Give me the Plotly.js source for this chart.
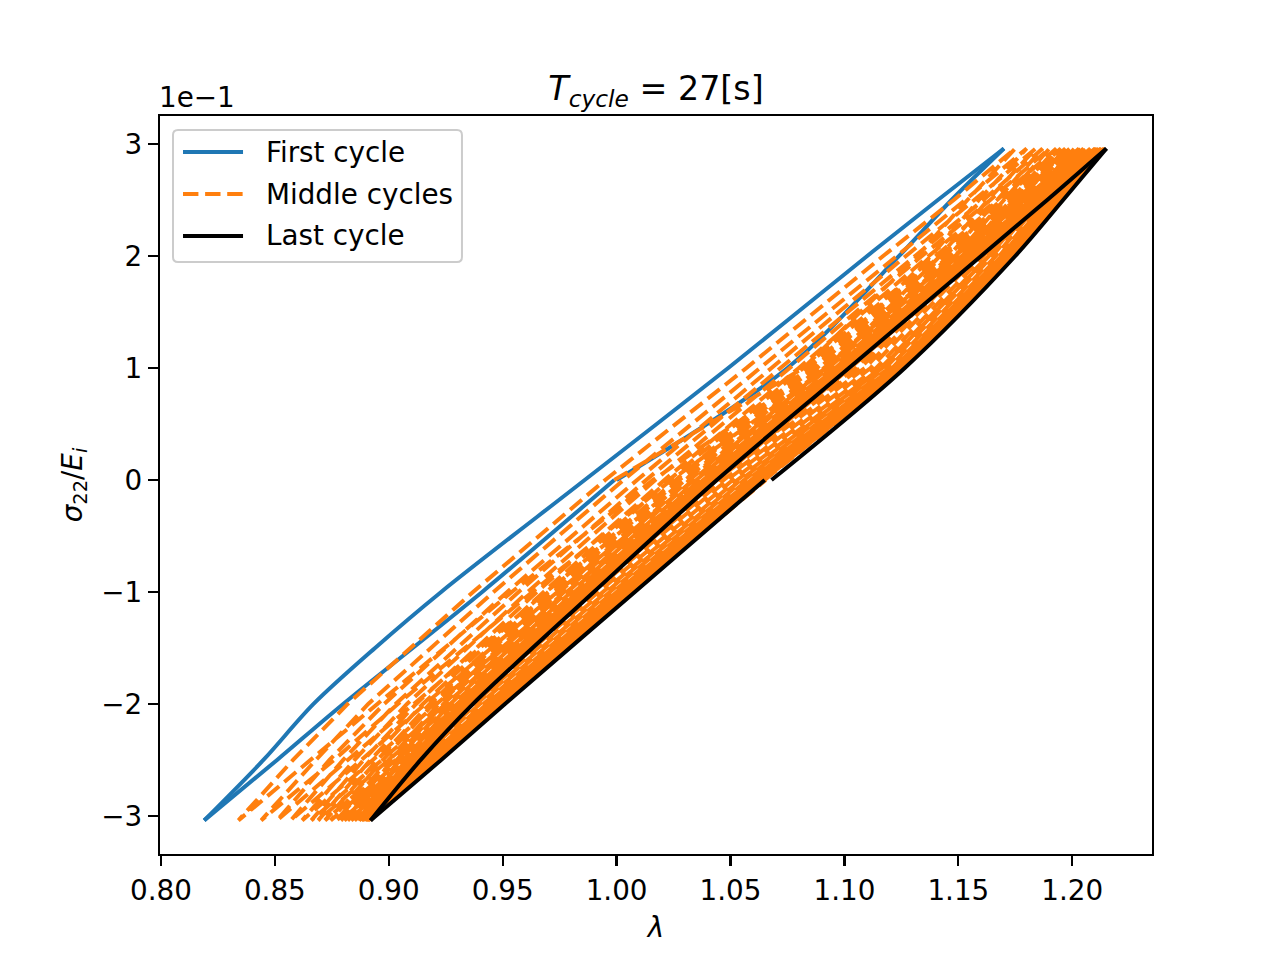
<!DOCTYPE html>
<html>
<head>
<meta charset="utf-8">
<script src="https://cdn.plot.ly/plotly-3.0.1.min.js"></script>
<style>
  html, body { margin: 0; padding: 0; background: #fff; }
  #myDiv { width: 1280px; height: 960px; }
</style>
</head>
<body>
<div id="myDiv"></div>
<script>
// stress path of one cycle (sigma_22 / E_i), same for every cycle:
// up to the top, down to the bottom, back up to zero
var sigmaPath = [0, 0.1, 0.2, 0.25, 0.296, 0.25, 0.2, 0.1, 0, -0.1, -0.2, -0.25, -0.304, -0.25, -0.2, -0.1, 0];

// the first cycle bends near the bottom, so it gets one more reading at -0.15
var sigmaFirst = [0, 0.1, 0.2, 0.25, 0.296, 0.25, 0.2, 0.1, 0, -0.1, -0.15, -0.2, -0.25, -0.304, -0.25, -0.2, -0.1, 0];
var firstCycle = [1.000, 1.075, 1.124, 1.147, 1.170, 1.141, 1.110, 1.049, 0.986, 0.923, 0.894, 0.867, 0.845, 0.819, 0.851, 0.880, 0.941, 0.999];

// stretch lambda of the middle cycles, read along sigmaPath
var middleCycles = [
  [0.999, 1.082, 1.132, 1.154, 1.175, 1.148, 1.117, 1.057, 0.995, 0.937, 0.882, 0.858, 0.834, 0.866, 0.895, 0.954, 1.016],
  [1.016, 1.088, 1.138, 1.159, 1.180, 1.153, 1.123, 1.063, 1.003, 0.946, 0.891, 0.868, 0.844, 0.876, 0.904, 0.963, 1.024],
  [1.024, 1.093, 1.142, 1.163, 1.184, 1.157, 1.127, 1.068, 1.009, 0.952, 0.898, 0.874, 0.851, 0.882, 0.911, 0.969, 1.030],
  [1.030, 1.097, 1.146, 1.167, 1.187, 1.161, 1.131, 1.072, 1.013, 0.957, 0.903, 0.880, 0.857, 0.888, 0.916, 0.974, 1.034],
  [1.034, 1.101, 1.149, 1.170, 1.190, 1.164, 1.134, 1.076, 1.017, 0.961, 0.908, 0.885, 0.862, 0.893, 0.921, 0.978, 1.038],
  [1.038, 1.105, 1.152, 1.173, 1.193, 1.167, 1.137, 1.080, 1.021, 0.965, 0.912, 0.889, 0.866, 0.897, 0.925, 0.982, 1.042],
  [1.042, 1.107, 1.155, 1.175, 1.195, 1.169, 1.140, 1.082, 1.023, 0.968, 0.915, 0.892, 0.869, 0.900, 0.928, 0.985, 1.044],
  [1.044, 1.109, 1.157, 1.177, 1.197, 1.171, 1.142, 1.084, 1.026, 0.970, 0.918, 0.895, 0.872, 0.903, 0.931, 0.987, 1.047],
  [1.047, 1.1115, 1.1585, 1.1795, 1.199, 1.1735, 1.1435, 1.0865, 1.0275, 0.9725, 0.9195, 0.8975, 0.8745, 0.9055, 0.9325, 0.9895, 1.0485],
  [1.0485, 1.114, 1.161, 1.181, 1.201, 1.175, 1.146, 1.089, 1.030, 0.975, 0.922, 0.900, 0.877, 0.908, 0.935, 0.992, 1.051],
  [1.051, 1.116, 1.163, 1.183, 1.203, 1.177, 1.148, 1.091, 1.032, 0.977, 0.924, 0.902, 0.879, 0.910, 0.937, 0.994, 1.053],
  [1.053, 1.1165, 1.1635, 1.1845, 1.204, 1.1785, 1.1485, 1.0915, 1.0335, 0.9785, 0.9255, 0.9035, 0.8805, 0.9115, 0.9385, 0.9955, 1.0545],
  [1.0545, 1.118, 1.165, 1.185, 1.205, 1.179, 1.150, 1.093, 1.035, 0.980, 0.927, 0.905, 0.882, 0.913, 0.940, 0.997, 1.056],
  [1.056, 1.1195, 1.1665, 1.1865, 1.2065, 1.1805, 1.1515, 1.0945, 1.0365, 0.9815, 0.9285, 0.9065, 0.8835, 0.9145, 0.9415, 0.9985, 1.0575],
  [1.0575, 1.121, 1.168, 1.188, 1.208, 1.182, 1.153, 1.096, 1.038, 0.983, 0.930, 0.908, 0.885, 0.916, 0.943, 1.000, 1.059],
  [1.059, 1.122, 1.169, 1.189, 1.209, 1.183, 1.154, 1.097, 1.039, 0.984, 0.931, 0.909, 0.886, 0.917, 0.944, 1.001, 1.060],
  [1.060, 1.123, 1.170, 1.190, 1.210, 1.184, 1.155, 1.098, 1.040, 0.985, 0.932, 0.910, 0.887, 0.918, 0.945, 1.002, 1.061],
  [1.061, 1.1235, 1.1705, 1.1905, 1.2105, 1.1845, 1.1555, 1.0985, 1.0405, 0.9855, 0.9325, 0.9105, 0.8875, 0.9185, 0.9455, 1.0025, 1.0615],
  [1.0615, 1.124, 1.171, 1.191, 1.211, 1.185, 1.156, 1.099, 1.041, 0.986, 0.933, 0.911, 0.888, 0.919, 0.946, 1.003, 1.062],
  [1.062, 1.1245, 1.1715, 1.1915, 1.2115, 1.1855, 1.1565, 1.0995, 1.0415, 0.9865, 0.9335, 0.9115, 0.8885, 0.9195, 0.9465, 1.0035, 1.0625],
  [1.0625, 1.125, 1.172, 1.192, 1.212, 1.186, 1.157, 1.100, 1.042, 0.987, 0.934, 0.912, 0.889, 0.920, 0.947, 1.004, 1.063],
  [1.063, 1.1252, 1.1725, 1.1925, 1.2125, 1.1865, 1.1575, 1.1005, 1.0425, 0.9875, 0.9345, 0.9125, 0.8895, 0.9205, 0.9475, 1.0045, 1.0635],
  [1.0635, 1.1255, 1.173, 1.193, 1.213, 1.187, 1.158, 1.101, 1.043, 0.988, 0.935, 0.913, 0.890, 0.921, 0.948, 1.005, 1.064],
  [1.064, 1.1257, 1.1735, 1.1935, 1.2135, 1.1875, 1.1585, 1.1015, 1.0435, 0.9885, 0.9355, 0.9135, 0.8905, 0.9215, 0.9485, 1.0055, 1.0645],
  [1.0645, 1.126, 1.174, 1.194, 1.214, 1.188, 1.159, 1.102, 1.044, 0.989, 0.936, 0.914, 0.891, 0.922, 0.949, 1.006, 1.065],
  [1.065, 1.126, 1.1745, 1.1945, 1.2145, 1.1885, 1.1595, 1.1025, 1.0445, 0.9895, 0.9365, 0.9145, 0.8915, 0.9225, 0.9495, 1.0065, 1.0655]
];

var lastCycle = [1.068, 1.1265, 1.175, 1.196, 1.215, 1.189, 1.160, 1.102, 1.044, 0.990, 0.937, 0.914, 0.892, 0.923, 0.951, 1.008, 1.065];

// indices where a cycle turns round (top and bottom)
var turnsFirst = [0, 4, 13, 17];
var turnsPath = [0, 4, 12, 16];

var xTicks = [0.80, 0.85, 0.90, 0.95, 1.00, 1.05, 1.10, 1.15, 1.20];
var yTicks = [-0.3, -0.2, -0.1, 0, 0.1, 0.2, 0.3];
var yTickText = ['\u22123', '\u22122', '\u22121', '0', '1', '2', '3'];

var legendNames = ['First cycle', 'Middle cycles', 'Last cycle'];
var blue = '#1f77b4', orange = '#ff7f0e', black = '#000000';
var dashed = '15.4px,6.7px';

var font = 'DejaVu Sans, Liberation Sans, sans-serif';
var fs = 27.8;

var data = [];

// first and last cycle: each branch its own smooth line, turning points stay sharp
function addSmoothCycle(lam, sig, turns, name, line) {
  for (var b = 0; b < turns.length - 1; b++) {
    var a = turns[b], e = turns[b + 1] + 1;
    data.push({
      x: lam.slice(a, e),
      y: sig.slice(a, e),
      mode: 'lines',
      name: name,
      showlegend: false,
      hoverinfo: 'skip',
      line: Object.assign({ shape: 'spline', smoothing: 0.9 }, line)
    });
  }
}

addSmoothCycle(firstCycle, sigmaFirst, turnsFirst, legendNames[0], { color: blue, width: 4 });

// middle cycles: one continuous dashed line, each cycle starts where the last ended
var midX = [], midY = [];
middleCycles.forEach(function (lam, k) {
  for (var i = (k === 0 ? 0 : 1); i < lam.length; i++) {
    midX.push(lam[i]);
    midY.push(sigmaPath[i]);
  }
});
data.push({
  x: midX,
  y: midY,
  mode: 'lines',
  name: legendNames[1],
  showlegend: false,
  hoverinfo: 'skip',
  line: { color: orange, width: 4, dash: dashed }
});

addSmoothCycle(lastCycle, sigmaPath, turnsPath, legendNames[2], { color: black, width: 4 });

var axisStyle = {
  showgrid: false,
  zeroline: false,
  showline: true,
  mirror: true,
  linecolor: '#000',
  linewidth: 2.2,
  ticks: 'outside',
  ticklen: 10,
  tickwidth: 2.2,
  tickcolor: '#000',
  tickfont: { family: font, size: fs, color: '#000' }
};

// legend box drawn the matplotlib way (long samples, rounded frame)
var lx0 = 0.0131, lx1 = 0.3044, ly0 = 0.8022, ly1 = 0.9810, rx = 0.005, ry = 0.0068;
var rowY = [0.9512, 0.8943, 0.8374];
var sampleX = [0.0232, 0.0837];
var textX = 0.1048;
var legendLines = [
  { color: blue, width: 4 },
  { color: orange, width: 4, dash: dashed },
  { color: black, width: 4 }
];

var shapes = [{
  type: 'path', xref: 'paper', yref: 'paper',
  path: 'M' + (lx0 + rx) + ',' + ly0 + ' L' + (lx1 - rx) + ',' + ly0 +
        ' Q' + lx1 + ',' + ly0 + ' ' + lx1 + ',' + (ly0 + ry) +
        ' L' + lx1 + ',' + (ly1 - ry) +
        ' Q' + lx1 + ',' + ly1 + ' ' + (lx1 - rx) + ',' + ly1 +
        ' L' + (lx0 + rx) + ',' + ly1 +
        ' Q' + lx0 + ',' + ly1 + ' ' + lx0 + ',' + (ly1 - ry) +
        ' L' + lx0 + ',' + (ly0 + ry) +
        ' Q' + lx0 + ',' + ly0 + ' ' + (lx0 + rx) + ',' + ly0 + ' Z',
  fillcolor: 'rgba(255,255,255,0.8)',
  line: { color: '#cccccc', width: 2 }
}];

var annotations = [{
  text: '1e\u22121',
  xref: 'paper', yref: 'paper',
  x: 0, y: 1,
  xanchor: 'left', yanchor: 'bottom',
  xshift: -3, yshift: 0,
  showarrow: false,
  font: { family: font, size: fs, color: '#000' }
}];

legendNames.forEach(function (name, i) {
  shapes.push({
    type: 'line', xref: 'paper', yref: 'paper',
    x0: sampleX[0], x1: sampleX[1], y0: rowY[i], y1: rowY[i],
    line: legendLines[i]
  });
  annotations.push({
    text: name,
    xref: 'paper', yref: 'paper',
    x: textX, y: rowY[i],
    xanchor: 'left', yanchor: 'middle',
    showarrow: false,
    font: { family: font, size: fs, color: '#000' }
  });
});

var layout = {
  width: 1280,
  height: 960,
  paper_bgcolor: '#fff',
  plot_bgcolor: '#fff',
  margin: { l: 160, r: 128, t: 116, b: 106 },
  font: { family: font, color: '#000' },
  showlegend: false,
  title: {
    text: '<i>T</i><sub><i>cycle</i></sub> = 27[s]',
    font: { family: font, size: 33.3, color: '#000' },
    x: 0.5125,
    xanchor: 'center',
    y: 0.908,
    yanchor: 'middle'
  },
  xaxis: Object.assign({}, axisStyle, {
    range: [0.7996, 1.2350],
    tickvals: xTicks,
    tickformat: '.2f',
    title: { text: '<i>λ</i>', font: { family: font, size: fs, color: '#000' }, standoff: 12 }
  }),
  yaxis: Object.assign({}, axisStyle, {
    range: [-0.334, 0.325],
    tickvals: yTicks,
    ticktext: yTickText,
    title: { text: '<i>σ</i><sub>22</sub>/<i>E</i><sub><i>i</i></sub>', font: { family: font, size: fs, color: '#000' }, standoff: 11 }
  }),
  shapes: shapes,
  annotations: annotations
};

Plotly.newPlot('myDiv', data, layout, { displayModeBar: false, staticPlot: true });
</script>
</body>
</html>
